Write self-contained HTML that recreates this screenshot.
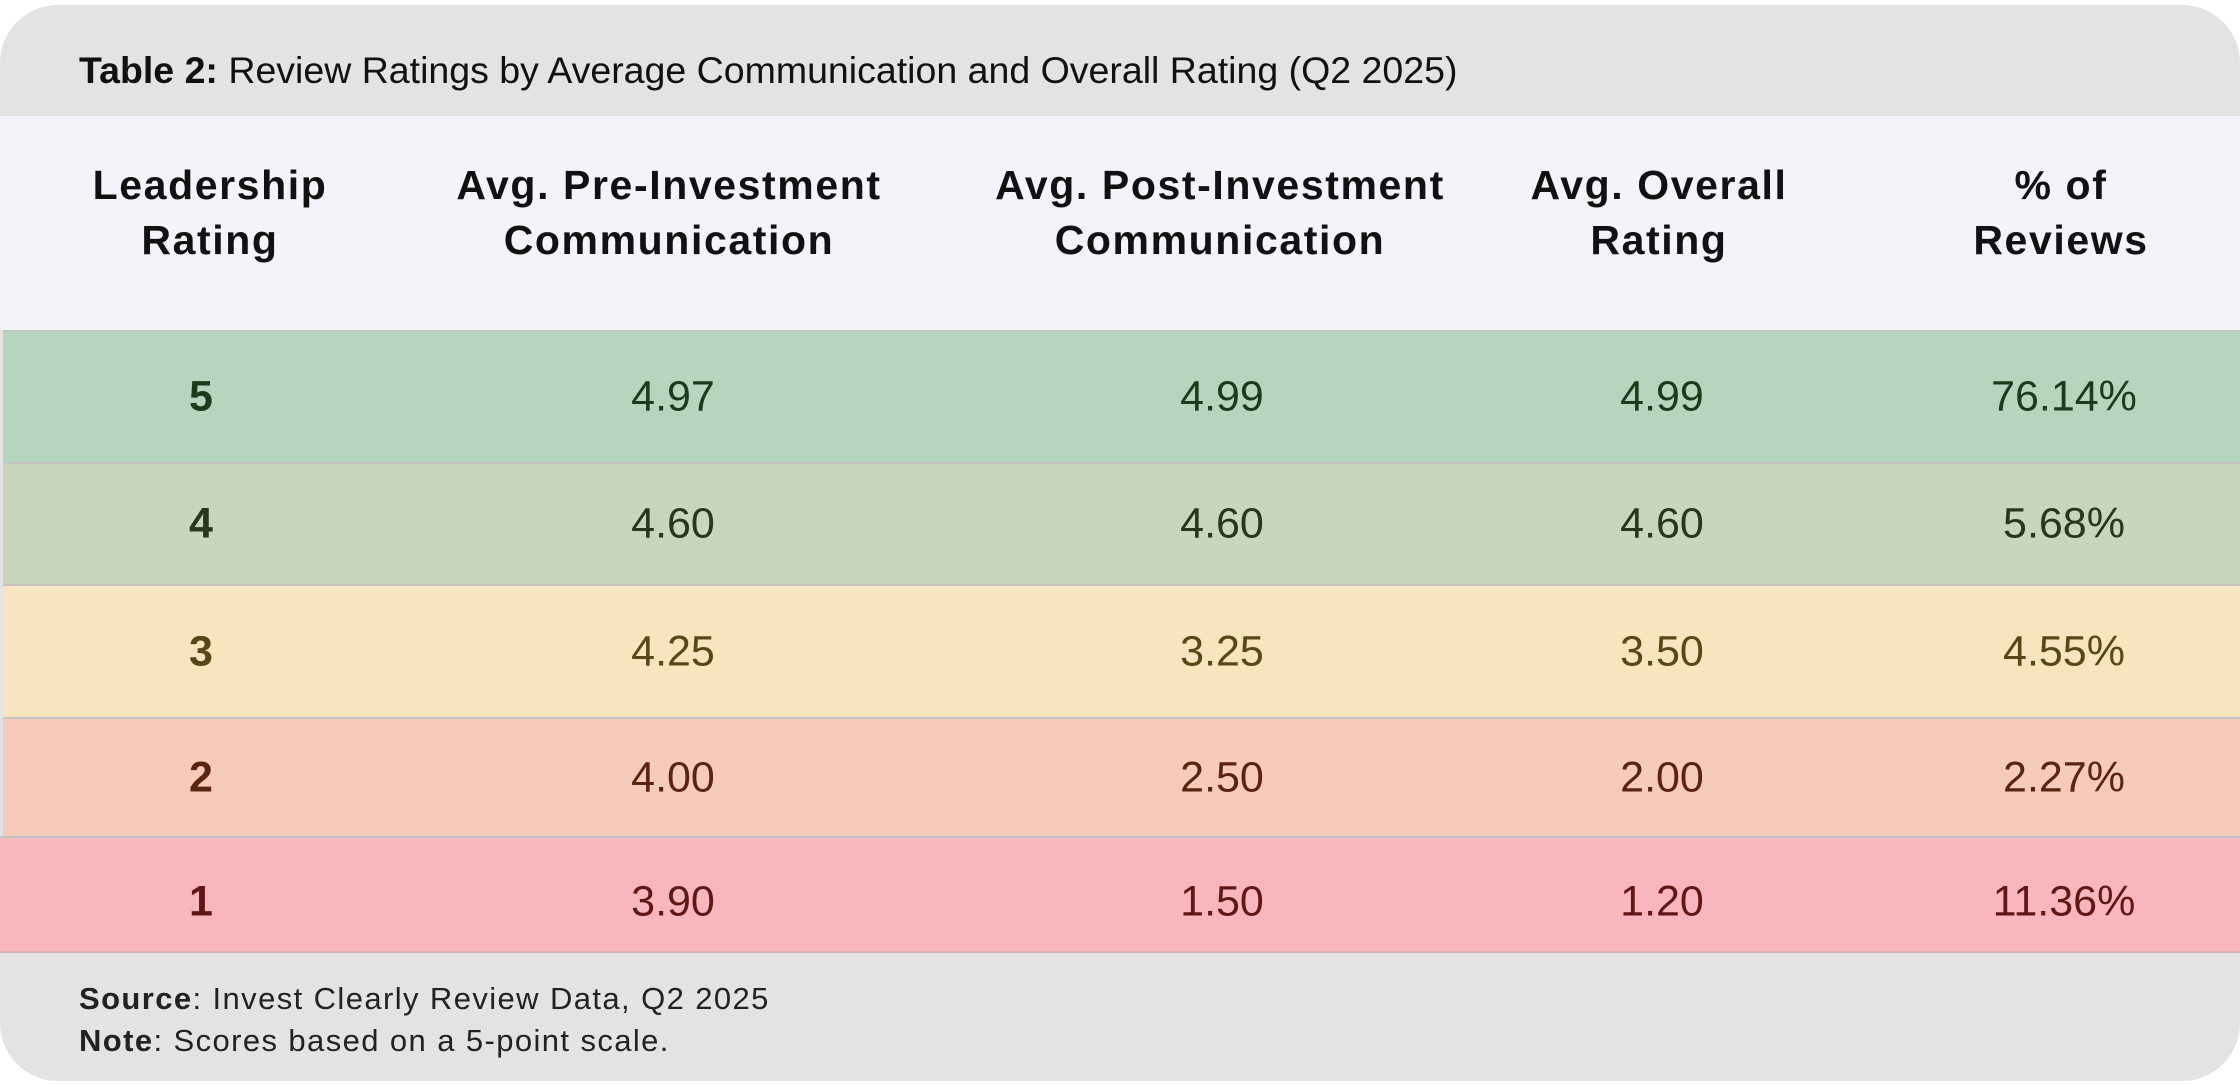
<!DOCTYPE html>
<html><head><meta charset="utf-8"><style>
html,body{margin:0;padding:0;background:#fff;}
body{width:2240px;height:1086px;position:relative;overflow:hidden;font-family:"Liberation Sans",sans-serif;}
.card{position:absolute;left:0;top:5px;width:2240px;height:1076px;background:#e3e3e3;border-radius:58px;overflow:hidden;}
.title{position:absolute;left:79px;top:44px;font-size:37.5px;color:#111;}
.hdr{position:absolute;left:0;top:111px;width:2240px;height:214px;background:#f3f4f9;}
.h{position:absolute;top:42px;font-weight:bold;font-size:41px;line-height:55px;text-align:center;color:#111;transform:translateX(-50%);white-space:nowrap;letter-spacing:1.6px;}
.row{position:absolute;left:3px;width:2237px;border-top:2px solid #c4c4c4;box-sizing:border-box;}
.c{position:absolute;top:50%;transform:translate(-50%,-50%);font-size:43px;white-space:nowrap;}
.c.b{font-weight:bold;}
.foot{position:absolute;left:79px;font-size:31px;color:#222;letter-spacing:1.4px;}
</style></head><body>
<div class="card">
<div class="title"><b>Table 2:</b> Review Ratings by Average Communication and Overall Rating (Q2 2025)</div>
<div class="hdr">
<div class="h" style="left:210px">Leadership<br>Rating</div>
<div class="h" style="left:669px">Avg. Pre-Investment<br>Communication</div>
<div class="h" style="left:1220px">Avg. Post-Investment<br>Communication</div>
<div class="h" style="left:1659px">Avg. Overall<br>Rating</div>
<div class="h" style="left:2061px">% of<br>Reviews</div>
</div>
<div class="row" style="top:325px;height:132px;background:#b7d5be;color:#1c3a1c">
<div class="c b" style="left:198px">5</div><div class="c" style="left:670px">4.97</div><div class="c" style="left:1219px">4.99</div><div class="c" style="left:1659px">4.99</div><div class="c" style="left:2061px">76.14%</div></div>
<div class="row" style="top:457px;height:122px;background:#c9d5bd;color:#26381a">
<div class="c b" style="left:198px">4</div><div class="c" style="left:670px">4.60</div><div class="c" style="left:1219px">4.60</div><div class="c" style="left:1659px">4.60</div><div class="c" style="left:2061px">5.68%</div></div>
<div class="row" style="top:579px;height:133px;background:#f7e5bf;color:#5a4718">
<div class="c b" style="left:198px">3</div><div class="c" style="left:670px">4.25</div><div class="c" style="left:1219px">3.25</div><div class="c" style="left:1659px">3.50</div><div class="c" style="left:2061px">4.55%</div></div>
<div class="row" style="top:712px;height:119px;background:#f7cbbc;color:#5a2410">
<div class="c b" style="left:198px">2</div><div class="c" style="left:670px">4.00</div><div class="c" style="left:1219px">2.50</div><div class="c" style="left:1659px">2.00</div><div class="c" style="left:2061px">2.27%</div></div>
<div class="row" style="top:831px;height:117px;left:0;width:2240px;background:#f8b7be;color:#621616;border-bottom:2px solid #d8b0b4">
<div class="c b" style="left:201px;top:57%">1</div><div class="c" style="left:673px;top:57%">3.90</div><div class="c" style="left:1222px;top:57%">1.50</div><div class="c" style="left:1662px;top:57%">1.20</div><div class="c" style="left:2064px;top:57%">11.36%</div></div>
<div class="foot" style="top:976px"><b>Source</b>: Invest Clearly Review Data, Q2 2025</div>
<div class="foot" style="top:1018px"><b>Note</b>: Scores based on a 5-point scale.</div>
</div>
</body></html>
